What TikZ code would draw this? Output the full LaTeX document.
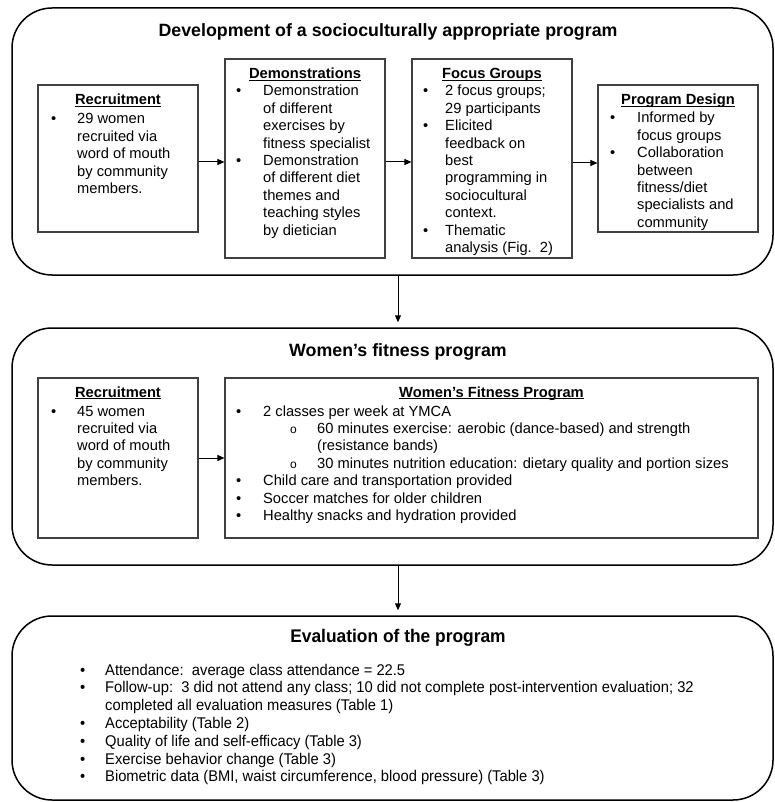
\documentclass[tikz,border=0pt]{standalone}
\usepackage{fontspec}
\setmainfont{Liberation Sans}
\newfontfamily\narrowfont[FakeStretch=0.95]{Liberation Sans}
\usepackage{array}
\usetikzlibrary{arrows.meta}
\newcommand\bodyfnt{\fontsize{14.7}{17.4}\selectfont}
\newcommand\evalfnt{\narrowfont\fontsize{15.5}{17.8}\selectfont}
\newcommand\hdu[1]{\setbox0\hbox{\bfseries #1}\rlap{\rule[-2.2pt]{\wd0}{0.9pt}}\box0}
\newcommand\subo{\hspace*{27pt}{\fontsize{12}{12}\selectfont o}}
\tikzset{
  obox/.style={draw=black, line width=1.5pt, rounded corners=40pt, inner sep=0pt},
  ibox/.style={draw=black!75, line width=1.1pt, inner sep=0pt},
  hdtxt/.style={anchor=base, inner sep=0pt, font=\bodyfnt},
  lst/.style={anchor=base west, inner sep=0pt, font=\bodyfnt},
  ttl/.style={anchor=base, inner sep=0pt, font=\fontsize{17.8}{20}\selectfont\bfseries},
  arr/.style={line width=1pt, -{Triangle[length=7pt,width=6pt]}}
}
\begin{document}
\begin{tikzpicture}[x=1pt,y=-1pt]
\useasboundingbox (0,0) rectangle (775,802);
% outer boxes
\node[obox, minimum width=761pt, minimum height=267pt] (b1) at (392.5,141.5) {};
\node[obox, minimum width=761pt, minimum height=237pt] (b2) at (392.5,446.5) {};
\node[obox, minimum width=761pt, minimum height=184pt] (b3) at (392.5,708) {};
% titles
\node[ttl] (t1) at (388,37) {Development of a socioculturally appropriate program};
\node[ttl] (t2) at (398,356) {Women’s fitness program};
\node[ttl, font=\narrowfont\fontsize{18.3}{20}\selectfont\bfseries] (t3) at (398,642) {Evaluation of the program};

% ---- top row
\node[ibox, minimum width=160pt, minimum height=147pt] (rec1) at (118,158.5) {};
\node[ibox, minimum width=160pt, minimum height=199pt] (demo) at (305,158.5) {};
\node[ibox, minimum width=160pt, minimum height=199pt] (focus) at (492,158.5) {};
\node[ibox, minimum width=160pt, minimum height=147pt] (design) at (678,158.5) {};

\node[hdtxt] (hrec1) at (118,105) {\hdu{Recruitment}};
\node[lst] (lrec1) at (51,124) {\begin{tabular}[t]{@{}p{26pt}@{}l@{}}
\textbullet & 29 women\\
 & recruited via\\
 & word of mouth\\
 & by community\\
 & members.
\end{tabular}};

\node[hdtxt] (hdemo) at (305,79) {\hdu{Demonstrations}};
\node[lst] (ldemo) at (236,96) {\begin{tabular}[t]{@{}p{27pt}@{}l@{}}
\textbullet & Demonstration\\
 & of different\\
 & exercises by\\
 & fitness specialist\\
\textbullet & Demonstration\\
 & of different diet\\
 & themes and\\
 & teaching styles\\
 & by dietician
\end{tabular}};

\node[hdtxt] (hfocus) at (492,79) {\hdu{Focus Groups}};
\node[lst] (lfocus) at (423,96) {\begin{tabular}[t]{@{}p{22pt}@{}l@{}}
\textbullet & 2 focus groups;\\
 & 29 participants\\
\textbullet & Elicited\\
 & feedback on\\
 & best\\
 & programming in\\
 & sociocultural\\
 & context.\\
\textbullet & Thematic\\
 & analysis (Fig.\ \ 2)
\end{tabular}};

\node[hdtxt] (hdesign) at (678,105) {\hdu{Program Design}};
\node[lst] (ldesign) at (610,123) {\begin{tabular}[t]{@{}p{27pt}@{}l@{}}
\textbullet & Informed by\\
 & focus groups\\
\textbullet & Collaboration\\
 & between\\
 & fitness/diet\\
 & specialists and\\
 & community
\end{tabular}};

\draw[arr] ([yshift=-3.5pt]rec1.east) -- ([yshift=-3.5pt]rec1.east -| demo.west);
\draw[arr] ([yshift=-3.5pt]demo.east) -- ([yshift=-3.5pt]focus.west);
\draw[arr] ([yshift=-4.5pt]focus.east) -- ([yshift=-4.5pt]focus.east -| design.west);

% ---- middle row
\node[ibox, minimum width=160pt, minimum height=160pt] (rec2) at (118,458) {};
\node[ibox, minimum width=533pt, minimum height=160pt] (wfp) at (491.5,458) {};

\node[hdtxt] (hrec2) at (118,397) {\hdu{Recruitment}};
\node[lst] (lrec2) at (51,416) {\begin{tabular}[t]{@{}p{26pt}@{}l@{}}
\textbullet & 45 women\\
 & recruited via\\
 & word of mouth\\
 & by community\\
 & members.
\end{tabular}};

\node[hdtxt] (hwfp) at (491.5,397) {\hdu{Women’s Fitness Program}};
\node[lst] (lwfp) at (236,416) {\begin{tabular}[t]{@{}p{27pt}@{}p{54pt}@{}l@{}}
\textbullet & \multicolumn{2}{@{}l@{}}{2 classes per week at YMCA}\\
 & \subo & 60 minutes exercise: aerobic (dance-based) and strength\\
 & & (resistance bands)\\
 & \subo & 30 minutes nutrition education: dietary quality and portion sizes\\
\textbullet & \multicolumn{2}{@{}l@{}}{Child care and transportation provided}\\
\textbullet & \multicolumn{2}{@{}l@{}}{Soccer matches for older children}\\
\textbullet & \multicolumn{2}{@{}l@{}}{Healthy snacks and hydration provided}
\end{tabular}};

\draw[arr] (rec2) -- (wfp);

% ---- bottom
\node[lst, font=\evalfnt] (leval) at (80,675) {\begin{tabular}[t]{@{}p{25pt}@{}l@{}}
\textbullet & Attendance:\ \ average class attendance = 22.5\\
\textbullet & Follow-up:\ \ 3 did not attend any class; 10 did not complete post-intervention evaluation; 32\\
 & completed all evaluation measures (Table 1)\\
\textbullet & Acceptability (Table 2)\\
\textbullet & Quality of life and self-efficacy (Table 3)\\
\textbullet & Exercise behavior change (Table 3)\\
\textbullet & Biometric data (BMI, waist circumference, blood pressure) (Table 3)
\end{tabular}};

% vertical arrows
\draw[arr, shorten >=5pt] ([xshift=5.5pt]b1.south) -- ([xshift=5.5pt]b2.north);
\draw[arr, shorten >=5pt] ([xshift=5.5pt]b2.south) -- ([xshift=5.5pt]b3.north);
\end{tikzpicture}
\end{document}
